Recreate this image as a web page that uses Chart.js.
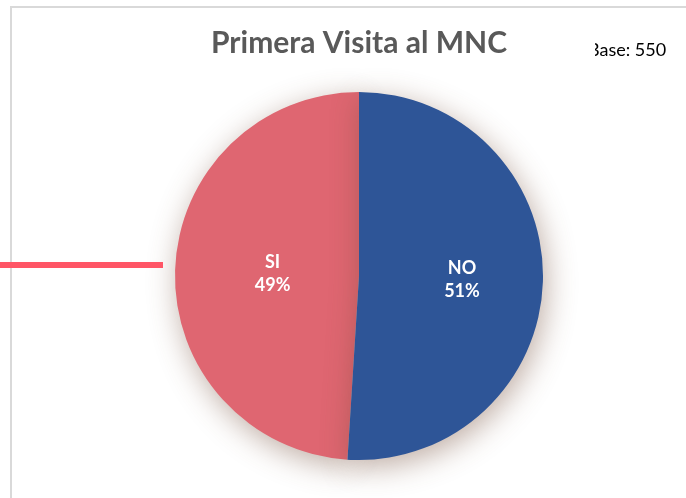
<!DOCTYPE html>
<html>
<head>
<meta charset="utf-8">
<script src="https://cdn.jsdelivr.net/npm/chart.js@4/dist/chart.umd.min.js"></script>
<style>
  html, body { margin: 0; padding: 0; background: #fff; }
  #wrap { position: relative; width: 686px; height: 498px; overflow: hidden; }
  #topLine { position: absolute; left: 10px; top: 6px; width: 676px; height: 2px; background: #d9d9d9; }
  #leftLine { position: absolute; left: 10px; top: 6px; width: 2px; height: 492px; background: #d9d9d9; }
  #redLine { position: absolute; left: 0; top: 262px; width: 163px; height: 6px; background: #ff5566; }
  #base { position: absolute; left: 595px; top: 38px; width: 91px; height: 26px; overflow: hidden; }
  #base span { position: absolute; left: -7px; top: 0; font: 18px Lato, sans-serif; color: #000; white-space: nowrap; }
  canvas { position: absolute; left: 0; top: 0; }
</style>
</head>
<body>
<div id="wrap">
  <canvas id="pieCanvas" width="686" height="498"></canvas>
  <div id="topLine"></div>
  <div id="leftLine"></div>
  <div id="redLine"></div>
  <div id="base"><span id="baseText"></span></div>
</div>
<script>
/* DATA */
const labels = ["SI", "NO"];
const values = [49, 51];
const colors = ["#df6671", "#2e5597"];
const title = "Primera Visita al MNC";
const baseLabel = "Base: 550";

document.getElementById("baseText").textContent = baseLabel;

const total = values.reduce((a, b) => a + b, 0);
// NO starts at 12 o'clock, so rotate back by the SI share
const rotation = -values[0] / total * 360;

/* shadow around the pie */
const pieShadow = {
  id: "pieShadow",
  beforeDatasetsDraw(chart) {
    const ctx = chart.ctx;
    ctx.save();
    ctx.shadowColor = "rgba(110, 70, 50, 0.45)";
    ctx.shadowBlur = 30;
    ctx.shadowOffsetX = 3;
    ctx.shadowOffsetY = 7;
  },
  afterDatasetsDraw(chart) {
    chart.ctx.restore();
  }
};

/* SI / 49% labels inside the slices */
const sliceLabels = {
  id: "sliceLabels",
  afterDraw(chart) {
    const ctx = chart.ctx;
    const reach = [0.47, 0.56];
    chart.getDatasetMeta(0).data.forEach((arc, i) => {
      const p = arc.getProps(["x", "y", "startAngle", "endAngle", "outerRadius"], true);
      const mid = (p.startAngle + p.endAngle) / 2;
      const r = p.outerRadius * reach[i];
      const cx = p.x + Math.cos(mid) * r;
      const cy = p.y + Math.sin(mid) * r;
      const pct = Math.round(values[i] / total * 100) + "%";
      ctx.save();
      ctx.fillStyle = "#fff";
      ctx.font = "bold 18px Lato, sans-serif";
      ctx.textAlign = "center";
      ctx.textBaseline = "middle";
      ctx.fillText(labels[i], cx, cy - 11.5);
      ctx.fillText(pct, cx, cy + 11.5);
      ctx.restore();
    });
  }
};

const chart = new Chart(document.getElementById("pieCanvas").getContext("2d"), {
  type: "pie",
  data: {
    labels: labels,
    datasets: [{
      data: values,
      backgroundColor: colors,
      borderWidth: 0,
      hoverOffset: 0
    }]
  },
  options: {
    responsive: false,
    animation: false,
    rotation: rotation,
    layout: { padding: { left: 32, right: 0, top: 0, bottom: 38 } },
    plugins: {
      legend: { display: false },
      tooltip: { enabled: false },
      title: {
        display: true,
        text: title,
        color: "#595959",
        font: { family: "Lato", size: 30, weight: "bold", lineHeight: 1.2 },
        padding: { top: 25, bottom: 31 }
      }
    }
  },
  plugins: [pieShadow, sliceLabels]
});
</script>
</body>
</html>
